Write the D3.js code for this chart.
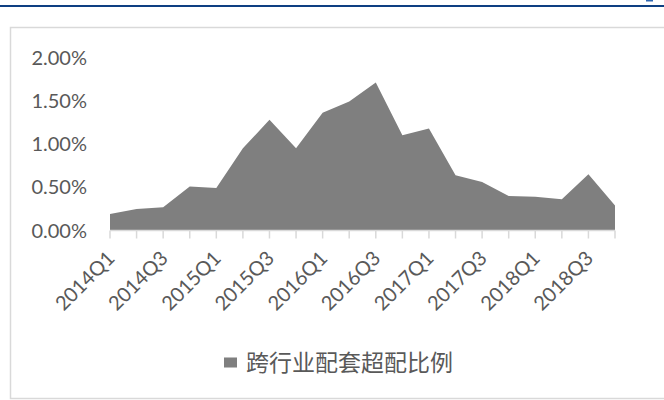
<!DOCTYPE html>
<html>
<head>
<meta charset="utf-8">
<script src="https://cdn.jsdelivr.net/npm/d3@7/dist/d3.min.js"></script>
<style>
  html, body { margin: 0; padding: 0; background: #fff; }
  svg { display: block; }
</style>
</head>
<body>
<svg id="chart" width="664" height="400"></svg>
<script>
// Quarterly cross-industry over-allocation ratio
const quarters = [
  "2014Q1","2014Q2","2014Q3","2014Q4",
  "2015Q1","2015Q2","2015Q3","2015Q4",
  "2016Q1","2016Q2","2016Q3","2016Q4",
  "2017Q1","2017Q2","2017Q3","2017Q4",
  "2018Q1","2018Q2","2018Q3","2018Q4"
];
const ratios = [
  0.0019, 0.0025, 0.0027, 0.0051,
  0.0049, 0.0095, 0.0128, 0.0095,
  0.0136, 0.0149, 0.0171, 0.0110,
  0.0118, 0.0064, 0.0056, 0.0040,
  0.0039, 0.0036, 0.0065, 0.0029
];
const yTicks = [0, 0.005, 0.01, 0.015, 0.02];
const shownQuarters = ["2014Q1","2014Q3","2015Q1","2015Q3","2016Q1","2016Q3","2017Q1","2017Q3","2018Q1","2018Q3"];
const seriesName = "跨行业配套超配比例";

const svg = d3.select("#chart");
const latin = "Lato, 'Open Sans', sans-serif";
const textColor = "#595959";
const lineGray = "#d9d9d9";

// page header rule
svg.append("rect").attr("x", 0).attr("y", 5).attr("width", 664).attr("height", 2).attr("fill", "#0e3f82");
svg.append("rect").attr("x", 646).attr("y", 0).attr("width", 7).attr("height", 1.5).attr("fill", "#2f67b1");

// chart frame
svg.append("path")
  .attr("d", "M670,27.5 H10.5 V398.5 H670")
  .attr("fill", "none")
  .attr("stroke", lineGray)
  .attr("stroke-width", 1.5);

const x = d3.scalePoint().domain(quarters).range([110, 615]);
const y = d3.scaleLinear().domain([0, 0.02]).range([230.5, 57.5]);

// filled area
const area = d3.area()
  .x((d, i) => x(quarters[i]))
  .y0(y(0))
  .y1(d => y(d));
svg.append("path")
  .datum(ratios)
  .attr("d", area)
  .attr("fill", "#7f7f7f");

// category axis
const xAxis = svg.append("g").attr("transform", `translate(0,${y(0)})`);
xAxis.append("line")
  .attr("x1", x(quarters[0])).attr("x2", x(quarters[quarters.length - 1]))
  .attr("stroke", lineGray).attr("stroke-width", 1.5);
xAxis.selectAll("line.tick")
  .data(quarters)
  .join("line")
  .attr("class", "tick")
  .attr("x1", d => x(d)).attr("x2", d => x(d))
  .attr("y1", 0).attr("y2", 8)
  .attr("stroke", lineGray).attr("stroke-width", 1.5);
xAxis.selectAll("text")
  .data(shownQuarters)
  .join("text")
  .attr("transform", d => `translate(${x(d) + 6},${29}) rotate(-45)`)
  .attr("text-anchor", "end")
  .attr("font-family", latin)
  .attr("font-size", 20)
  .attr("fill", textColor)
  .text(d => d);

// value axis labels
const fmt = d3.format(".2%");
svg.append("g").selectAll("text")
  .data(yTicks)
  .join("text")
  .attr("x", 87)
  .attr("y", d => y(d))
  .attr("dy", "0.36em")
  .attr("text-anchor", "end")
  .attr("font-family", latin)
  .attr("font-size", 20)
  .attr("fill", textColor)
  .text(d => fmt(d));

// legend
const legend = svg.append("g");
legend.append("rect")
  .attr("x", 224).attr("y", 357.5).attr("width", 13).attr("height", 10)
  .attr("fill", "#7f7f7f");
legend.append("text")
  .attr("x", 246)
  .attr("y", 362.5)
  .attr("dy", "0.36em")
  .attr("font-family", "'Noto Sans CJK SC', sans-serif")
  .attr("font-size", 23)
  .attr("fill", textColor)
  .text(seriesName);
</script>
</body>
</html>
